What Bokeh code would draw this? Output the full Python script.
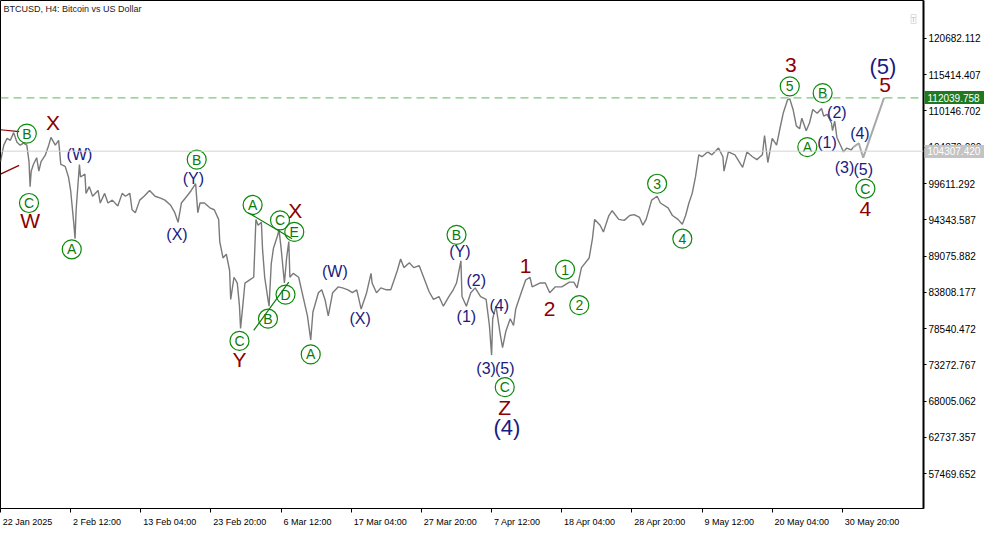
from bokeh.plotting import figure
from bokeh.models import Range1d, FixedTicker, NumeralTickFormatter, Span, Label, LinearAxis
from bokeh.core.properties import value
from bokeh.embed import file_html
from bokeh.resources import INLINE

# H4 bar index (from 22 Jan 2025) and price
bar_idx = [0, 3, 6, 9, 12, 15, 18, 21, 24, 26, 27, 28, 30, 33, 35, 37, 41, 44, 46, 50,
           53, 54, 55, 59, 62, 64, 67, 68, 69, 72, 73, 77, 78, 81, 84, 89, 91, 95, 98, 102,
           107, 111, 114, 118, 120, 123, 127, 131, 136, 141, 146, 150, 155, 159, 162, 165, 170, 174, 178, 180,
           182, 186, 191, 195, 199, 200, 203, 206, 209, 210, 213, 216, 218, 219, 221, 223, 227, 231, 233, 235,
           238, 239, 241, 244, 245, 247, 249, 253, 254, 256, 259, 261, 263, 264, 267, 272, 276, 280, 283, 285,
           290, 293, 296, 299, 303, 308, 312, 317, 321, 325, 329, 334, 338, 339, 343, 347, 352, 356, 359, 362,
           365, 368, 373, 377, 382, 386, 391, 395, 400, 404, 409, 413, 416, 420, 421, 425, 429, 433, 438, 443,
           446, 448, 449, 452, 456, 458, 461, 465, 468, 470, 475, 479, 483, 485, 492, 497, 501, 506, 512, 519,
           523, 526, 530, 537, 540, 542, 547, 550, 555, 558, 564, 569, 574, 578, 583, 586, 589, 594, 599, 602,
           609, 613, 618, 622, 625, 628, 631, 634, 637, 640, 645, 649, 655, 659, 660, 664, 670, 677, 681, 686,
           690, 695, 697, 700, 704, 708, 711, 714, 718, 720, 723, 726, 729, 731, 735, 738, 741, 745, 749, 751,
           754, 758, 759, 761, 763, 767, 769, 772, 776, 778]
close = [102800, 105180, 106160, 105880, 107000, 105600, 105180, 105460, 105180, 102800, 99160, 101400, 102380, 103360, 101400, 102800, 103780, 105180, 106300, 105180,
         105880, 104200, 102380, 102100, 100560, 98600, 93560, 91600, 95800, 102380, 100560, 100980, 98180, 99160, 97760, 98600, 96780, 98180, 96780, 97200,
         96360, 98180, 97760, 98180, 95800, 95380, 97200, 97760, 98600, 97760, 97480, 97200, 96500, 95380, 93980, 96780, 97760, 98600, 99580, 95380,
         96780, 96780, 96080, 95800, 94400, 91180, 88800, 89360, 86980, 82780, 86000, 85160, 81800, 78580, 81800, 85160, 85580, 86000, 94400, 93560,
         93980, 90200, 86000, 82780, 81800, 87960, 90200, 92160, 93000, 90200, 85160, 88800, 91180, 86000, 86560, 86000, 83200, 80400, 76900, 80960,
         83760, 84180, 82780, 80400, 83760, 84600, 84460, 84180, 83760, 84180, 81380, 83760, 86560, 85160, 83760, 84460, 84180, 84180, 85580, 86980,
         88660, 87400, 88100, 87400, 87680, 86000, 83900, 82780, 83200, 81800, 83200, 84180, 85160, 88380, 83200, 81800, 83760, 84460, 83200, 82780,
         79000, 74700, 79980, 81800, 77600, 75780, 78160, 79980, 79000, 81380, 83760, 85580, 86000, 84600, 85160, 85160, 83760, 84600, 84600, 85300,
         85300, 84460, 87400, 88800, 91600, 94400, 93560, 92580, 94960, 95660, 94400, 94260, 94960, 95100, 94680, 93560, 94400, 97200, 97760, 96780,
         96080, 94960, 94400, 93700, 94960, 96780, 98180, 100560, 103780, 103500, 104200, 103780, 104760, 103500, 101400, 104200, 103780, 101960, 104200, 103500,
         103080, 103780, 106580, 102660, 106160, 105180, 107560, 109800, 111760, 111900, 110360, 107980, 107560, 109100, 107280, 108400, 110360, 109800, 110500, 109380,
         109660, 108400, 107280, 108680, 106300, 104900, 104200, 104760, 104480, 104900]

# projected path (4)-(5)-5
proj_idx = [778, 783, 787, 806]
proj_price = [104900, 105460, 103360, 112040]

# trend lines
green_line_top = ([226, 266], [95380, 91600])
green_line_bot = ([231, 263], [78300, 85300])
red_line_top = ([0, 17], [107420, 107140])
red_line_bot = ([0, 17], [100980, 102240])

# wave labels
circ_txt = ["B", "C", "A", "B", "A", "C", "E", "D", "B", "C", "A", "B", "C", "1", "2", "3", "4", "5", "B", "A", "C"]
circ_idx = [24, 26, 65, 179, 230, 255, 268, 260, 244, 218, 283, 416, 460, 515, 528, 599, 622, 720, 750, 736, 789]
circ_price = [106860, 96780, 90060, 103080, 96500, 94260, 92580, 83480, 79980, 76760, 74800, 92160, 70040, 87120, 81940, 99580, 91600, 113720, 112740, 104900, 98880]

red_txt = ["W", "X", "Y", "X", "Z", "1", "2", "3", "4", "5"]
red_idx = [27, 48, 218, 269, 460, 479, 501, 721, 789, 807]
red_price = [94260, 108400, 74100, 95660, 67100, 87680, 81380, 116800, 95940, 113860]

navy_txt = ["(W)", "(X)", "(Y)", "(W)", "(X)", "(Y)", "(1)", "(2)", "(4)", "(3)", "(5)", "(1)", "(2)", "(3)", "(4)", "(5)"]
navy_idx = [72, 161, 176, 305, 328, 419, 425, 434, 455, 443, 460, 754, 763, 770, 784, 787]
navy_price = [103780, 92160, 100280, 86840, 79980, 89780, 80260, 85580, 81940, 72700, 72700, 105600, 109940, 101960, 106860, 101680]

big_txt = ["(4)", "(5)"]
big_idx = [462, 805]
big_price = [64160, 116660]

y_ticks = [57469.652, 62737.357, 68005.062, 73272.767, 78540.472, 83808.177, 89075.882,
           94343.587, 99611.292, 104879.0, 110146.702, 115414.407, 120682.112]
x_tick_bars = [0, 64, 128, 192, 256, 320, 384, 448, 512, 576, 640, 704, 768]
x_tick_labels = ["22 Jan 2025", "2 Feb 12:00", "13 Feb 04:00", "23 Feb 20:00", "6 Mar 12:00",
                 "17 Mar 04:00", "27 Mar 20:00", "7 Apr 12:00", "18 Apr 04:00", "28 Apr 20:00",
                 "9 May 12:00", "20 May 04:00", "30 May 20:00"]
level_green = 112039.758
level_gray = 104307.420

X0, X1 = 0, 842
Y0, Y1 = 52427, 126182
FONT = value("Liberation Sans")
FN = "Liberation Sans"

p = figure(width=984, height=529, output_backend="svg", toolbar_location=None,
           x_range=Range1d(X0, X1), y_range=Range1d(Y0, Y1), y_axis_location="right",
           background_fill_color="white", border_fill_color="white")
p.min_border_left = 0
p.min_border_top = 0
p.min_border_bottom = 0
p.min_border_right = 0
p.grid.visible = False
p.outline_line_color = "black"
p.outline_line_width = 1

ya = p.yaxis[0]
ya.ticker = FixedTicker(ticks=y_ticks)
ya.formatter = NumeralTickFormatter(format="0.000")
ya.major_label_text_font = FN
ya.major_label_text_font_size = "10px"
ya.major_label_text_color = "black"
ya.major_tick_in = 0
ya.major_tick_out = 3
ya.minor_tick_out = 0
ya.minor_tick_in = 0
ya.axis_line_width = 2
ya.major_label_standoff = 2

# bottom axis: date labels left-aligned to their tick (MT4 style);
# the real tick marks are drawn as minor ticks at the bar positions
CW = {"0": 556, "1": 556, "2": 556, "3": 556, "4": 556, "5": 556, "6": 556, "7": 556, "8": 556,
      "9": 556, " ": 278, ":": 278, "J": 500, "a": 556, "n": 556, "F": 611, "e": 556, "b": 556,
      "M": 833, "r": 333, "A": 667, "p": 556, "y": 500}
LBL_PX = 9
px_per_bar = 912 / (X1 - X0)
lab_pos = []
for b, t in zip(x_tick_bars, x_tick_labels):
    w = sum(CW.get(c, 556) for c in t) * LBL_PX / 1000.0
    lab_pos.append(b + (w / 2 + 2) / px_per_bar)
xa = p.xaxis[0]
xa.ticker = FixedTicker(ticks=lab_pos, minor_ticks=x_tick_bars)
xa.major_label_overrides = {pos: t for pos, t in zip(lab_pos, x_tick_labels)}
xa.major_tick_out = 0
xa.major_tick_in = 0
xa.minor_tick_out = 4
xa.minor_tick_in = 0
xa.minor_tick_line_color = "black"
xa.major_label_standoff = 4
xa.major_label_text_font = FN
xa.major_label_text_font_size = "9px"
xa.major_label_text_color = "black"

# price boxes on the right scale: an extra right-hand axis stacked after the main one,
# whose inward tick forms the box and whose label is pulled back onto the price column
AXW = 62  # approx. width of the main price-axis panel (px)
for lvl, txt, col in [(level_green, "112039.758", "#1f7a1f"), (level_gray, "104307.420", "#c4c4c4")]:
    box = LinearAxis(ticker=FixedTicker(ticks=[lvl]),
                     major_label_overrides={lvl: txt},
                     axis_line_color=None, major_tick_in=AXW - 2, major_tick_out=0,
                     major_tick_line_width=13, major_tick_line_color=col, major_tick_line_cap="butt",
                     minor_tick_out=0, minor_tick_in=0, major_label_standoff=5 - AXW,
                     major_label_text_font=FN, major_label_text_font_size="10px",
                     major_label_text_color="white")
    p.add_layout(box, "right")

p.add_layout(Span(location=level_gray, dimension="width", line_color="#d4d4d4", line_width=1))
p.add_layout(Span(location=level_green, dimension="width", line_color="#5cb85c",
                  line_width=1, line_dash="8 5"))

p.line(bar_idx, close, line_color="#7a7a7a", line_width=1.4)
p.line(proj_idx, proj_price, line_color="#a9a9a9", line_width=2)

p.line(*green_line_top, line_color="#0b7a0b", line_width=1.2)
p.line(*green_line_bot, line_color="#0b7a0b", line_width=1.2)
p.line(*red_line_top, line_color="#8b0000", line_width=1.2)
p.line(*red_line_bot, line_color="#8b0000", line_width=1.2)

p.scatter(circ_idx, circ_price, marker="circle", size=19, fill_color=None,
          line_color="#0b8a0b", line_width=1.2)
p.text(circ_idx, circ_price, text=circ_txt, text_align="center", text_baseline="middle",
       text_font=FONT, text_font_size="14px", text_color="#0b7a0b")
p.text(red_idx, red_price, text=red_txt, text_align="center", text_baseline="middle",
       text_font=FONT, text_font_size="21px", text_color="#8b0000")
p.text(navy_idx, navy_price, text=navy_txt, text_align="center", text_baseline="middle",
       text_font=FONT, text_font_size="16px", text_color="#1a1a80")
p.text(big_idx, big_price, text=big_txt, text_align="center", text_baseline="middle",
       text_font=FONT, text_font_size="22px", text_color="#1a1a80")

p.add_layout(Label(x=X0, y=Y1, text="BTCUSD, H4:  Bitcoin vs US Dollar", x_offset=3, y_offset=-3,
                   text_baseline="top", text_align="left", text_font=FN,
                   text_font_size="9px", text_color="#222222"))
p.add_layout(Label(x=X1, y=Y1, text="T", x_offset=-10, y_offset=-14, text_baseline="top",
                   text_align="center", text_font=FN, text_font_size="8px", text_color="#c0c0c0",
                   border_line_color="#dddddd"))

open("out.html", "w").write(file_html(p, INLINE))
